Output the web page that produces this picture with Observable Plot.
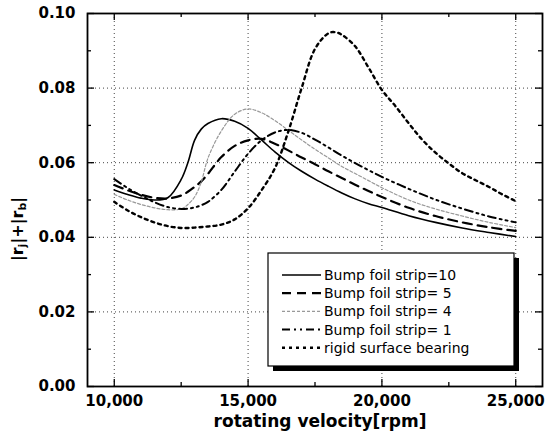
<!DOCTYPE html>
<html><head><meta charset="utf-8">
<script src="https://cdn.jsdelivr.net/npm/d3@7"></script>
<script src="https://cdn.jsdelivr.net/npm/@observablehq/plot@0.6"></script>
<style>body{margin:0;background:#fff} #chart{width:550px;height:443px}</style>
</head><body><div id="chart"></div>
<script>
const rpm = [10000,10500,11000,11500,12000,12500,12750,13000,13250,13500,14000,14500,15000,15500,16000,16500,17000,17500,18000,18500,19000,19500,20000,21000,22000,23000,24000,25000];
const strip10 = [0.0527,0.0515,0.0505,0.0500,0.0506,0.0555,0.0600,0.0660,0.0690,0.0705,0.0718,0.0711,0.0692,0.0661,0.0629,0.0601,0.0577,0.0556,0.0537,0.0519,0.0503,0.0490,0.0480,0.0458,0.0440,0.0425,0.0413,0.0402];
const strip5 = [0.0540,0.0526,0.0514,0.0506,0.0504,0.0512,0.0522,0.0535,0.0550,0.0570,0.0615,0.0645,0.0660,0.0664,0.0651,0.0633,0.0614,0.0596,0.0577,0.0559,0.0541,0.0524,0.0508,0.0479,0.0457,0.0440,0.0427,0.0417];
const strip4 = [0.0515,0.0500,0.0488,0.0479,0.0474,0.0476,0.0488,0.0508,0.0548,0.0612,0.0685,0.0730,0.0744,0.0734,0.0713,0.0687,0.0661,0.0636,0.0613,0.0590,0.0571,0.0552,0.0533,0.0500,0.0476,0.0457,0.0440,0.0426];
const strip1 = [0.0556,0.0532,0.0512,0.0494,0.0481,0.0476,0.0477,0.0480,0.0486,0.0495,0.0527,0.0576,0.0624,0.0660,0.0681,0.0688,0.0680,0.0662,0.0641,0.0619,0.0599,0.0580,0.0562,0.0530,0.0501,0.0477,0.0456,0.0440];
const rpmRigid = [10000,10500,11000,11500,12000,12500,13000,13500,14000,14500,15000,15500,16000,16500,17000,17500,18000,18250,18500,19000,19500,20000,20500,21000,21500,22000,22500,23000,23500,24000,24500,25000];
const rigid = [0.0495,0.0472,0.0454,0.0440,0.0430,0.0425,0.0426,0.0429,0.0434,0.0448,0.0478,0.0526,0.0585,0.0683,0.0800,0.0905,0.0947,0.0950,0.0943,0.0912,0.0855,0.0795,0.0752,0.0706,0.0662,0.0627,0.0598,0.0572,0.0553,0.0535,0.0515,0.0497];

const seriesNames = ["Bump foil strip=10","Bump foil strip= 5","Bump foil strip= 4","Bump foil strip= 1","rigid surface bearing"];
const xTicks = [10000,15000,20000,25000];
const xMinor = [12500,17500,22500];
const yTicks = [0,0.02,0.04,0.06,0.08,0.10];
const yMinor = [0.01,0.03,0.05,0.07,0.09];
const xLabel = "rotating velocity[rpm]";

const styles = [
  {stroke:"#000", strokeWidth:1.6, strokeDasharray:null},
  {stroke:"#000", strokeWidth:2.2, strokeDasharray:"9,6"},
  {stroke:"#999", strokeWidth:1.2, strokeDasharray:"3,2"},
  {stroke:"#000", strokeWidth:2.0, strokeDasharray:"8,4,2,4,2,4"},
  {stroke:"#000", strokeWidth:2.4, strokeDasharray:"3,4"}
];

const series = [
  rpm.map((r,i)=>({rpm:r, v:strip10[i]})),
  rpm.map((r,i)=>({rpm:r, v:strip5[i]})),
  rpm.map((r,i)=>({rpm:r, v:strip4[i]})),
  rpm.map((r,i)=>({rpm:r, v:strip1[i]})),
  rpmRigid.map((r,i)=>({rpm:r, v:rigid[i]}))
];

const W = 550, H = 443, mL = 87, mR = 8, mT = 13, mB = 57;
const pw = W - mL - mR, ph = H - mT - mB;
const tickFont = {fontSize:15, fontWeight:"bold", fontFamily:"DejaVu Sans"};

const svg = Plot.plot({
  width: W, height: H,
  marginLeft: mL, marginRight: mR, marginTop: mT, marginBottom: mB,
  style: {background:"#fff", color:"#000", fontFamily:"DejaVu Sans"},
  x: {domain:[9000,26000], label:null},
  y: {domain:[0,0.1], label:null},
  marks: [
    Plot.ruleX(xTicks, {stroke:"#444", strokeDasharray:"1,3", strokeWidth:1}),
    Plot.ruleY(yTicks.filter(d=>d>0 && d<0.1), {stroke:"#444", strokeDasharray:"1,3", strokeWidth:1}),
    ...series.map((s,i)=>Plot.line(s, {x:"rpm", y:"v", curve:"catmull-rom", stroke:styles[i].stroke, strokeWidth:styles[i].strokeWidth, strokeDasharray:styles[i].strokeDasharray})),
    Plot.tickX(xTicks, {x:d=>d, insetTop:ph-7, strokeWidth:1.3}),
    Plot.tickX(xTicks, {x:d=>d, insetBottom:ph-7, strokeWidth:1.3}),
    Plot.tickX(xMinor, {x:d=>d, insetTop:ph-4, strokeWidth:1.3}),
    Plot.tickX(xMinor, {x:d=>d, insetBottom:ph-4, strokeWidth:1.3}),
    Plot.tickY(yTicks, {y:d=>d, insetRight:pw-7, strokeWidth:1.3}),
    Plot.tickY(yTicks, {y:d=>d, insetLeft:pw-7, strokeWidth:1.3}),
    Plot.tickY(yMinor, {y:d=>d, insetRight:pw-4, strokeWidth:1.3}),
    Plot.tickY(yMinor, {y:d=>d, insetLeft:pw-4, strokeWidth:1.3}),
    Plot.frame({stroke:"#000", strokeWidth:1.8}),
    Plot.axisX(xTicks, {tickSize:0, tickPadding:9, tickFormat:d3.format(","), label:null, ...tickFont}),
    Plot.axisY(yTicks, {tickSize:0, tickPadding:12, tickFormat:d3.format(".2f"), label:null, ...tickFont}),
    Plot.text([xLabel], {frameAnchor:"bottom", dy:40, dx:5, lineAnchor:"bottom", fontSize:17, fontWeight:"bold", fontFamily:"DejaVu Sans"})
  ]
});
document.getElementById("chart").appendChild(svg);

const s = d3.select(svg);
// y-axis title with subscripts
const yt = s.append("text")
  .attr("transform","translate(23,229) rotate(-90)")
  .attr("text-anchor","middle")
  .attr("font-family","DejaVu Sans").attr("font-weight","bold").attr("font-size",16).attr("fill","#000");
yt.append("tspan").text("|r");
yt.append("tspan").attr("font-size",11).attr("dy",3).text("j");
yt.append("tspan").attr("dy",-3).text("|+|r");
yt.append("tspan").attr("font-size",11).attr("dy",3).text("b");
yt.append("tspan").attr("dy",-3).text("|");

// legend
const lg = s.append("g").attr("text-anchor","start");
const bx = 268, by = 253, bw = 246, bh = 113;
lg.append("rect").attr("x",bx+5).attr("y",by+5).attr("width",bw).attr("height",bh).attr("fill","#000");
lg.append("rect").attr("x",bx).attr("y",by).attr("width",bw).attr("height",bh).attr("fill","#fff").attr("stroke","#000").attr("stroke-width",1.2);
seriesNames.forEach((name,i)=>{
  const y = 275 + i*18.2;
  lg.append("line").attr("x1",282).attr("x2",321).attr("y1",y).attr("y2",y)
    .attr("stroke",styles[i].stroke).attr("stroke-width",styles[i].strokeWidth)
    .attr("stroke-dasharray",styles[i].strokeDasharray);
  lg.append("text").attr("x",324).attr("y",y).attr("dy","0.35em")
    .attr("text-anchor","start")
    .attr("font-family","DejaVu Sans").attr("font-size",14).attr("fill","#000").text(name);
});
</script>
</body></html>
